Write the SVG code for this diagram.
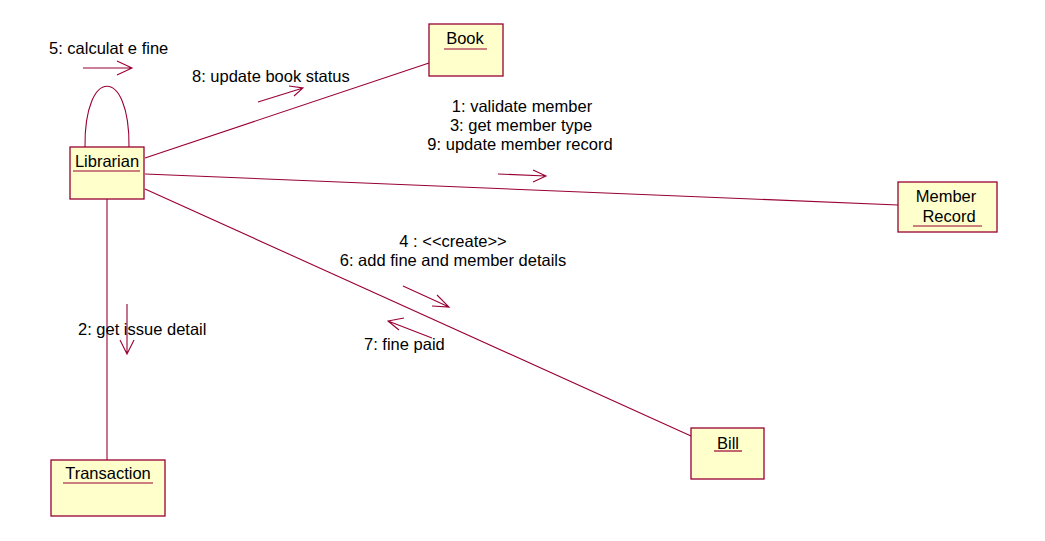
<svg xmlns="http://www.w3.org/2000/svg" width="1045" height="541" viewBox="0 0 1045 541">
<style>
.box{fill:#FFFFCC;stroke:#990033;stroke-width:1.3}
.ul{stroke:#990033;stroke-width:1.2}
.ln{stroke:#990033;stroke-width:1.1;fill:none}
text{font-family:"Liberation Sans",Arial,sans-serif;font-size:16.5px;fill:#000}
.c{text-anchor:middle}
</style>
<rect width="1045" height="541" fill="#fff"/>
<g id="connectors">
<path class="ln" d="M85,147 C84,66 130,66 129,147"/>
<line class="ln" x1="145" y1="158" x2="429" y2="63"/>
<line class="ln" x1="145" y1="174" x2="898" y2="205"/>
<line class="ln" x1="145" y1="189" x2="691" y2="436"/>
<line class="ln" x1="107" y1="199" x2="107" y2="460"/>
</g>
<g id="messages">
<text x="49" y="54">5: calculat e fine</text>
<path class="ln" d="M83,68 H132 M117,61 L132,68 L117,75"/>
<text x="192" y="82">8: update book status</text>
<path class="ln" d="M258,102 L303,88 M289,86 L303,88 L294,96"/>
<text class="c" x="522" y="112">1: validate member</text>
<text class="c" x="521" y="131">3: get member type</text>
<text class="c" x="520" y="150">9: update member record</text>
<path class="ln" d="M498,174 L546,176 M533,170 L546,176 L533,182"/>
<text class="c" x="453" y="247">4 : &lt;&lt;create&gt;&gt;</text>
<text class="c" x="453" y="266">6: add fine and member details</text>
<path class="ln" d="M403,286 L449,307 M437,295 L449,307 L432,306"/>
<path class="ln" d="M432,338 L388,321 M404,318 L388,321 L399,330"/>
<text x="364" y="350">7: fine paid</text>
<text x="78" y="335">2: get issue detail</text>
<path class="ln" d="M127,304 V354 M120,340 L127,354 L134,340"/>
</g>
<g id="librarian">
<rect class="box" x="70" y="147" width="74" height="52"/>
<text class="c" x="107" y="167">Librarian</text>
<line class="ul" x1="73" y1="171" x2="140" y2="171"/>
</g>
<g id="book">
<rect class="box" x="429" y="24" width="74" height="52"/>
<text class="c" x="465" y="44">Book</text>
<line class="ul" x1="444" y1="49" x2="487" y2="49"/>
</g>
<g id="member-record">
<rect class="box" x="898" y="182" width="99" height="50"/>
<text class="c" x="946" y="202">Member</text>
<text class="c" x="949" y="222">Record</text>
<line class="ul" x1="913" y1="226" x2="982" y2="226"/>
</g>
<g id="bill">
<rect class="box" x="691" y="428" width="73" height="51"/>
<text class="c" x="728" y="449">Bill</text>
<line class="ul" x1="714" y1="451" x2="742" y2="451"/>
</g>
<g id="transaction">
<rect class="box" x="51" y="460" width="114" height="56"/>
<text class="c" x="108" y="479">Transaction</text>
<line class="ul" x1="63" y1="483" x2="153" y2="483"/>
</g>
</svg>
